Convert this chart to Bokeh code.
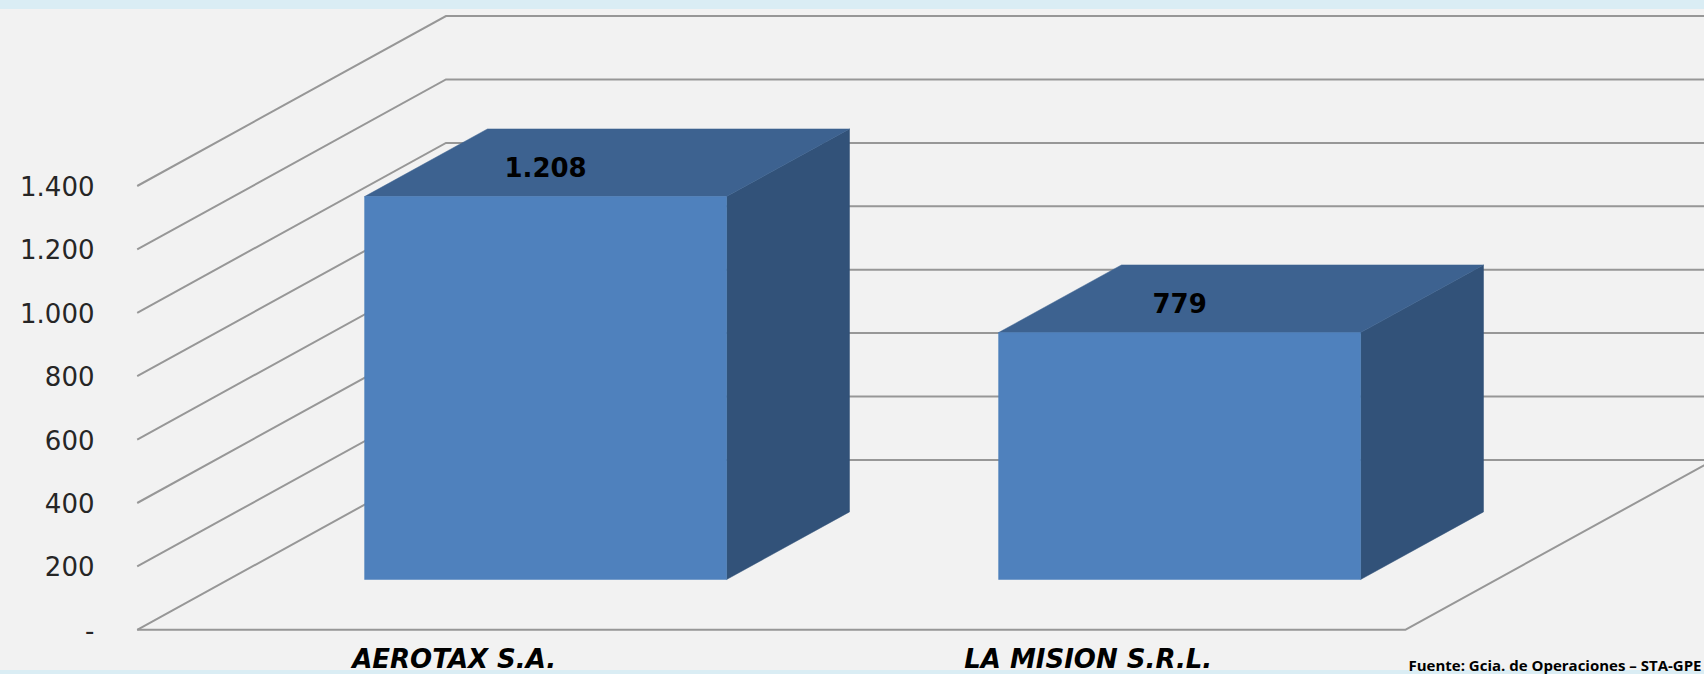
from bokeh.plotting import figure
from bokeh.embed import file_html
from bokeh.resources import INLINE
from bokeh.models import Range1d, FixedTicker, Label
from bokeh.core.properties import value as V

categories = ["AEROTAX S.A.", "LA MISION S.R.L."]
values = [1208, 779]
value_labels = ["1.208", "779"]
grid_values = [0, 200, 400, 600, 800, 1000, 1200, 1400]
tick_labels = ["-", "200", "400", "600", "800", "1.000", "1.200", "1.400"]
source_note = "Fuente: Gcia. de Operaciones – STA-GPE"

# oblique projection: one depth unit moves the wall away from the front plane
DEPTH_X = 0.487      # category units
DEPTH_Y = 536.0      # value units
BAR_WIDTH = 0.571
BAR_D0, BAR_D1 = 0.296, 0.694

def proj(u, v, d):
    return u + d * DEPTH_X, v + d * DEPTH_Y

PX_U = 634.0
PX_V = 0.317
FRAME_L, FRAME_T, FRAME_B = 130, 0, 674
W, H = 1704, 674

p = figure(width=W, height=H, output_backend="svg", toolbar_location=None,
           frame_width=W - FRAME_L, frame_height=FRAME_B - FRAME_T,
           x_range=Range1d((FRAME_L - 136.7) / PX_U, (W - 136.7) / PX_U),
           y_range=Range1d((629.3 - FRAME_B) / PX_V, (629.3 - FRAME_T) / PX_V),
           background_fill_color=None, border_fill_color=None,
           min_border_left=FRAME_L, min_border_right=0, min_border_top=0,
           min_border_bottom=0)
p.outline_line_color = None
p.grid.visible = False

# value axis
p.yaxis.ticker = FixedTicker(ticks=grid_values)
p.yaxis.major_label_overrides = dict(zip(grid_values, tick_labels))
p.yaxis.axis_line_color = None
p.yaxis.major_tick_line_color = None
p.yaxis.minor_tick_line_color = None
p.yaxis.major_tick_out = 0
p.yaxis.major_label_standoff = 36
p.yaxis.major_label_text_font = "DejaVu Sans"
p.yaxis.major_label_text_font_size = "26px"
p.yaxis.major_label_text_color = "#262626"

# category axis, pinned to the floor line inside the frame
ticks = [i + 0.5 for i in range(len(categories))]
p.xaxis.fixed_location = 0
p.xaxis.ticker = FixedTicker(ticks=ticks)
p.xaxis.major_label_overrides = dict(zip(ticks, categories))
p.xaxis.axis_line_color = None
p.xaxis.major_tick_line_color = None
p.xaxis.minor_tick_line_color = None
p.xaxis.major_tick_out = 0
p.xaxis.major_label_standoff = 14
p.xaxis.major_label_text_font = "DejaVu Sans"
p.xaxis.major_label_text_font_style = "bold italic"
p.xaxis.major_label_text_font_size = "26px"
p.xaxis.major_label_text_color = "#000000"

# walls and floor
n = len(categories)
GRID = "#979797"
for g in grid_values:
    x0, y0 = proj(0, g, 0)
    x1, y1 = proj(0, g, 1)
    x2, y2 = proj(n, g, 1)
    p.line([x0, x1, x2], [y0, y1, y2], line_color=GRID, line_width=2, line_join="miter")
fx0, fy0 = proj(0, 0, 0)
fx1, fy1 = proj(n, 0, 0)
fx2, fy2 = proj(n, 0, 1)
p.line([fx0, fx1, fx2], [fy0, fy1, fy2], line_color=GRID, line_width=2)

# bars
for i, v in enumerate(values):
    l = i + 0.5 - BAR_WIDTH / 2
    r = l + BAR_WIDTH
    f_bl = proj(l, 0, BAR_D0); f_br = proj(r, 0, BAR_D0)
    f_tl = proj(l, v, BAR_D0); f_tr = proj(r, v, BAR_D0)
    b_tl = proj(l, v, BAR_D1); b_tr = proj(r, v, BAR_D1); b_br = proj(r, 0, BAR_D1)
    for pts, col in [((f_br, b_br, b_tr, f_tr), "#325279"),
                     ((f_tl, f_tr, b_tr, b_tl), "#3d6290"),
                     ((f_bl, f_br, f_tr, f_tl), "#4f81bd")]:
        p.patch([a for a, _ in pts], [b for _, b in pts], fill_color=col, line_color=col, line_width=0.5)
    lx = (f_tl[0] + f_tr[0]) / 2
    ly = (f_tl[1] + b_tl[1]) / 2 - 4.5 / PX_V
    p.text([lx], [ly], text=[value_labels[i]], text_align="center", text_baseline="middle",
           text_font=V("DejaVu Sans"), text_font_style="bold", text_font_size="26px", text_color="#000000")

# source note below the floor
p.add_layout(Label(x=(1408 - 136.7) / PX_U, y=(629.3 - 654) / PX_V, text=source_note,
                   text_font="Open Sans", text_font_style="bold", text_font_size="15px",
                   text_color="#000000", text_baseline="top"))

# page colour with the pale bands at the top and bottom edges, behind the transparent figure
css = ("<style>html{height:674px;background:linear-gradient(to bottom,#daedf4 8.7px,#f2f2f2 8.7px,"
       "#f2f2f2 670px,#daedf4 670px)}</style>")
open("out.html", "w").write(file_html(p, INLINE).replace("</head>", css + "</head>", 1))
